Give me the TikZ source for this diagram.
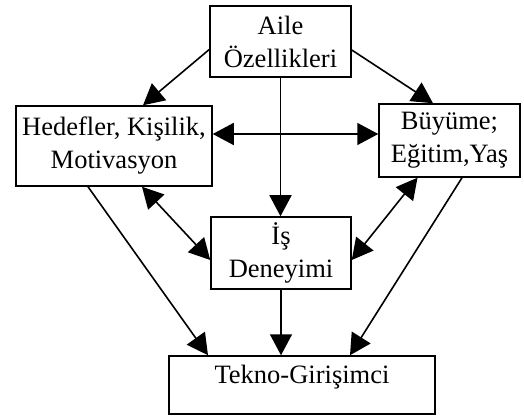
\documentclass[tikz,border=0pt]{standalone}
\usepackage{fontspec}
\setmainfont{Liberation Serif}
\usetikzlibrary{arrows.meta}
\tikzset{
  box/.style={draw, line width=1.5pt, inner sep=0pt, align=center,
    font=\fontsize{26.5}{33}\selectfont},
  conn/.style={line width=1.6pt, -{Triangle[length=21pt,width=22pt]}},
  dconn/.style={line width=1.6pt, {Triangle[length=21pt,width=22pt]}-{Triangle[length=21pt,width=22pt]}}
}
\begin{document}
\begin{tikzpicture}[x=1pt,y=-1pt]
\useasboundingbox (0,0) rectangle (524,419);
\node[box, minimum width=141pt, minimum height=71pt] (aile) at (280.5,41.5) {Aile\\Özellikleri};
\node[box, minimum width=196pt, minimum height=80pt] (hed) at (114,146) {Hedefler, Kişilik,\\Motivasyon};
\node[box, minimum width=141pt, minimum height=73pt] (buy) at (449.5,140.5) {Büyüme;\\Eğitim,Yaş};
\node[box, minimum width=140pt, minimum height=72pt] (is) at (281,253) {İş\\Deneyimi};
\node[box, minimum width=266pt, text height=27pt, text depth=31pt] (tek) at (302,385) {Tekno-Girişimci};
\draw[conn] ([yshift=-8pt]aile.west) -- ([xshift=29pt]hed.north);
\draw[conn] ([yshift=-8.5pt]aile.east) -- ([xshift=-16.5pt]buy.north);
\draw[conn] (aile.south) -- (aile.south |- is.north);
\draw[dconn] ([yshift=12pt]hed.east) coordinate (h1) -- (h1 -| buy.west);
\draw[dconn] ([xshift=28pt]hed.south) -- ([yshift=-7pt]is.west);
\draw[dconn] ([xshift=-32pt]buy.south) -- ([yshift=-7pt]is.east);
\draw[conn] ([xshift=-26pt]hed.south) -- ([xshift=-94pt]tek.north);
\draw[conn] ([xshift=12.5pt]buy.south) -- ([xshift=48pt]tek.north);
\draw[conn] (is.south) -- (is.south |- tek.north);
\end{tikzpicture}
\end{document}
